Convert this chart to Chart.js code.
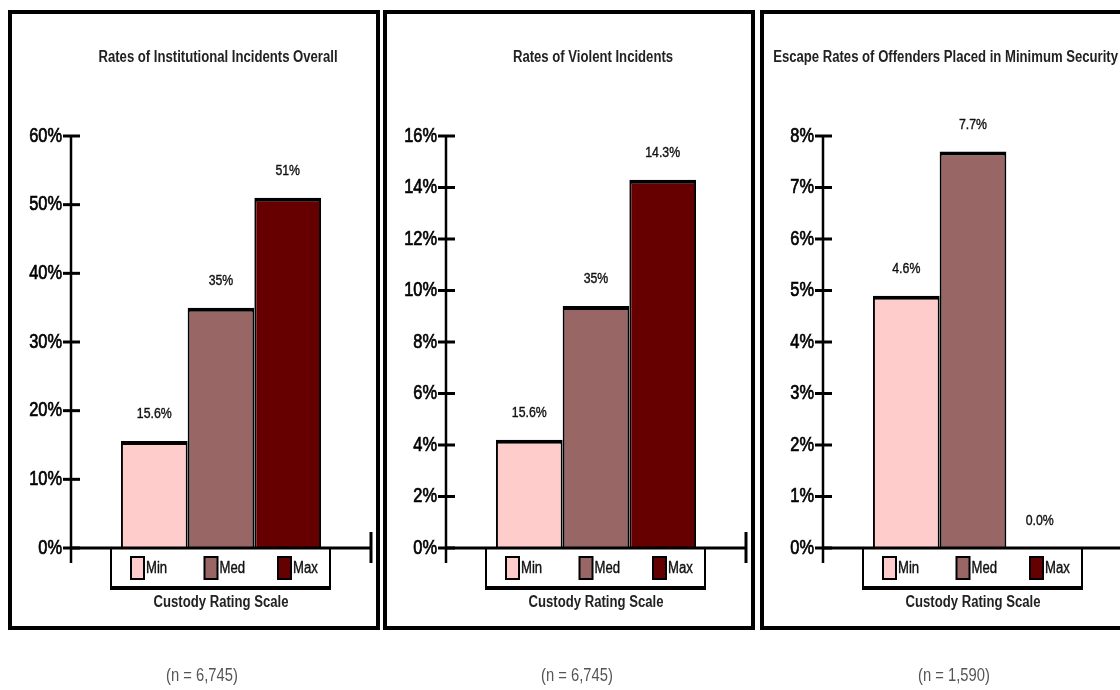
<!DOCTYPE html>
<html>
<head>
<meta charset="utf-8">
<script src="https://cdn.jsdelivr.net/npm/chart.js@4.4.0/dist/chart.umd.min.js"></script>
<style>
  html, body { margin: 0; padding: 0; background: #fff; overflow: hidden; }
  #wrap { position: relative; width: 1120px; height: 690px; overflow: hidden; }
  canvas { position: absolute; top: 0; }
</style>
</head>
<body>
<div id="wrap">
  <canvas id="chart1" width="380" height="690" style="left:0px"></canvas>
  <canvas id="chart2" width="380" height="690" style="left:375px"></canvas>
  <canvas id="chart3" width="380" height="690" style="left:752px"></canvas>
</div>
<script>
// custody levels (one bar each)
const categories = ['Min', 'Med', 'Max'];

// panel 1 - institutional incidents overall
const incidentRates = [15.6, 35, 51];
const incidentLabels = ['15.6%', '35%', '51%'];

// panel 2 - violent incidents (labels as printed in the original)
const violentRates = [4.2, 9.4, 14.3];
const violentLabels = ['15.6%', '35%', '14.3%'];

// panel 3 - escapes from minimum security
const escapeRates = [4.9, 7.7, 0];
const escapeLabels = ['4.6%', '7.7%', '0.0%'];

const titles = [
  'Rates of Institutional Incidents Overall',
  'Rates of Violent Incidents',
  'Escape Rates of Offenders Placed in Minimum Security'
];
const xTitle = 'Custody Rating Scale';
const sampleSizes = ['(n = 6,745)', '(n = 6,745)', '(n = 1,590)'];
const yMax = [60, 16, 8];
const yStep = [10, 2, 1];

const barColors = ['#ffcccc', '#996666', '#660000'];
const FONT = '"Liberation Sans", Arial, sans-serif';
const NARROW = 0.82; // squeeze text to look like Arial Narrow

function line(ctx, x1, y1, x2, y2, w) {
  ctx.lineWidth = w;
  ctx.beginPath();
  ctx.moveTo(x1, y1);
  ctx.lineTo(x2, y2);
  ctx.stroke();
}

// narrow text: draws with a horizontal squeeze (heavy = extra outline)
function text(ctx, str, x, y, align, font, color, heavy) {
  ctx.save();
  ctx.font = font;
  ctx.fillStyle = color || '#111';
  ctx.strokeStyle = color || '#111';
  ctx.textAlign = align;
  ctx.textBaseline = 'middle';
  ctx.translate(x, y);
  ctx.scale(NARROW, 1);
  ctx.fillText(str, 0, 0);
  if (heavy) {
    ctx.lineWidth = heavy;
    ctx.strokeText(str, 0, 0);
  }
  ctx.restore();
}

function textWidth(ctx, str, font) {
  ctx.save();
  ctx.font = font;
  const w = ctx.measureText(str).width * NARROW;
  ctx.restore();
  return w;
}

// frame, title, axes, value labels and legend box
const panelDecor = {
  id: 'panelDecor',
  afterDraw(chart, args, opts) {
    const ctx = chart.ctx;
    const a = chart.chartArea;
    const ys = chart.scales.y;
    const cx = (a.left + a.right) / 2;
    ctx.save();
    ctx.strokeStyle = '#000';

    // outer frame
    ctx.lineWidth = 4;
    ctx.strokeRect(10, 12, 368, 616);

    // title, kept inside the frame
    const tf = 'bold 16px ' + FONT;
    const tw = textWidth(ctx, opts.title, tf);
    let tx = cx - 3;
    if (tx + tw / 2 > 366) tx = 366 - tw / 2;
    text(ctx, opts.title, tx, 58, 'center', tf, '#222');

    // axes
    ctx.strokeStyle = '#000';
    line(ctx, a.left, ys.top, a.left, a.bottom + 15, 2.5);
    line(ctx, a.left, a.bottom, a.right, a.bottom, 3);
    line(ctx, a.right, a.bottom - 16, a.right, a.bottom + 15, 3);
    ys.ticks.forEach(function (t) {
      const py = ys.getPixelForValue(t.value);
      ctx.strokeStyle = '#000';
      line(ctx, a.left - 8, py, a.left + 9, py, 3);
      text(ctx, t.value + '%', a.left - 9, py, 'right', '20px ' + FONT, '#000', 0.7);
    });

    // value labels above bars
    chart.data.datasets.forEach(function (ds, i) {
      const bar = chart.getDatasetMeta(i).data[0];
      text(ctx, opts.valueLabels[i], bar.x, bar.y - 27, 'center', '15px ' + FONT, '#111', 0.4);
    });

    // legend box under the axis
    ctx.strokeStyle = '#000';
    const lx1 = a.left + 40, lx2 = a.left + 259, ly2 = a.bottom + 40;
    line(ctx, lx1, a.bottom, lx1, ly2, 2);
    line(ctx, lx2, a.bottom, lx2, ly2, 2);
    line(ctx, lx1 - 1, ly2, lx2 + 1, ly2, 4);
    chart.data.datasets.forEach(function (ds, i) {
      const sx = a.left + 60 + i * 73.5;
      ctx.fillStyle = ds.backgroundColor;
      ctx.fillRect(sx, a.bottom + 9, 13, 22);
      ctx.strokeStyle = '#000';
      ctx.lineWidth = 2;
      ctx.strokeRect(sx, a.bottom + 9, 13, 22);
      text(ctx, ds.label, sx + 15, a.bottom + 21, 'left', '16px ' + FONT, '#111', 0.4);
    });

    // axis title
    text(ctx, opts.xTitle, cx, a.bottom + 55, 'center', 'bold 16px ' + FONT, '#222');

    // sample size below the frame
    text(ctx, opts.sample, 202, 676, 'center', '18px ' + FONT, '#555');
    ctx.restore();
  }
};

function makePanel(id, idx, values, labels) {
  const ctx = document.getElementById(id).getContext('2d');
  return new Chart(ctx, {
    type: 'bar',
    data: {
      labels: [''],
      datasets: categories.map(function (c, i) {
        return {
          label: c,
          data: [values[i]],
          backgroundColor: barColors[i],
          borderColor: '#000',
          borderWidth: { top: 4, left: 2, right: 2, bottom: 0 },
          borderSkipped: false,
          categoryPercentage: 0.667,
          barPercentage: 1
        };
      })
    },
    options: {
      responsive: false,
      animation: false,
      layout: { padding: { left: 0, right: 9, top: 136, bottom: 78 } },
      plugins: {
        legend: { display: false },
        tooltip: { enabled: false },
        panelDecor: {
          title: titles[idx],
          xTitle: xTitle,
          valueLabels: labels,
          sample: sampleSizes[idx]
        }
      },
      scales: {
        x: {
          grid: { display: false, drawTicks: false },
          border: { display: false },
          ticks: { display: false },
          afterFit: function (scale) { scale.height = 64; }
        },
        y: {
          min: 0,
          max: yMax[idx],
          grid: { display: false, drawTicks: false },
          border: { display: false },
          ticks: { display: false, stepSize: yStep[idx] },
          afterFit: function (scale) { scale.width = 71; }
        }
      }
    },
    plugins: [panelDecor]
  });
}

makePanel('chart1', 0, incidentRates, incidentLabels);
makePanel('chart2', 1, violentRates, violentLabels);
makePanel('chart3', 2, escapeRates, escapeLabels);
</script>
</body>
</html>
